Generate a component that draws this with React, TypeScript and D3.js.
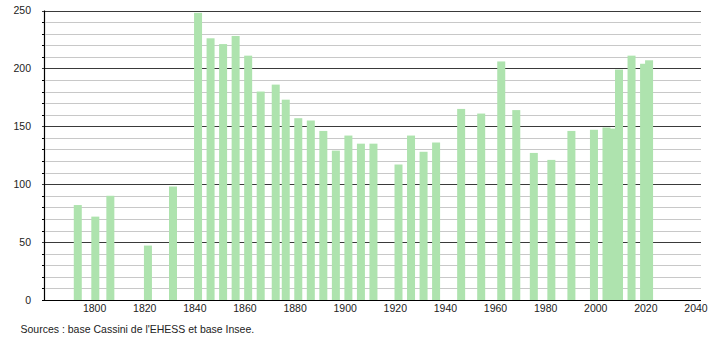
import React from "react";
import * as d3 from "d3";

const years = [1793, 1800, 1806, 1821, 1831, 1841, 1846, 1851, 1856, 1861, 1866, 1872, 1876, 1881, 1886, 1891, 1896, 1901, 1906, 1911, 1921, 1926, 1931, 1936, 1946, 1954, 1962, 1968, 1975, 1982, 1990, 1999, 2004, 2006, 2009, 2014, 2019, 2021];
const population = [82, 72, 90, 47, 98, 248, 226, 221, 228, 211, 180, 186, 173, 157, 155, 146, 129, 142, 135, 135, 117, 142, 128, 136, 165, 161, 206, 164, 127, 121, 146, 147, 149, 148, 199, 211, 204, 207];
const xTicks = [1800, 1820, 1840, 1860, 1880, 1900, 1920, 1940, 1960, 1980, 2000, 2020, 2040];
const yTicks = [0, 50, 100, 150, 200, 250];
const sourceText = "Sources : base Cassini de l'EHESS et base Insee.";

const W = 710, H = 340;
const left = 44.5, right = 701, top = 10.5, bottom = 300;

export default function App() {
  const x = d3.scaleLinear().domain([1780, 2042]).range([left, right]);
  const y = d3.scaleLinear().domain([0, 250]).range([bottom, top]);
  const minor = d3.range(10, 250, 10).filter((v) => v % 50 !== 0);
  const barW = 8;
  const font = "'Liberation Sans', Arial, sans-serif";
  return (
    <svg width={W} height={H} style={{ position: "absolute", left: 0, top: 0, background: "#fff" }}>
      {minor.map((v) => (
        <g key={"m" + v}>
          <line x1={left + 1} x2={right} y1={Math.round(y(v)) + 0.5} y2={Math.round(y(v)) + 0.5} stroke="#c8c8c8" strokeWidth={1} />
          <line x1={left - 2.5} x2={left} y1={Math.round(y(v)) + 0.5} y2={Math.round(y(v)) + 0.5} stroke="#000" strokeWidth={1} />
        </g>
      ))}
      {yTicks.filter((v) => v > 0).map((v) => (
        <line key={"g" + v} x1={left - 2.5} x2={right} y1={Math.round(y(v)) + 0.5} y2={Math.round(y(v)) + 0.5} stroke="#3a3a3a" strokeWidth={1} />
      ))}
      {years.map((yr, i) => (
        <rect key={yr} x={x(yr) - barW / 2 + 0.7} y={y(population[i])} width={barW} height={bottom - y(population[i])} fill="#aee3ae" />
      ))}
      <line x1={left} x2={left} y1={top} y2={bottom} stroke="#000" strokeWidth={1.2} />
      <line x1={left - 2.5} x2={right} y1={bottom + 0.5} y2={bottom + 0.5} stroke="#000" strokeWidth={1.2} />
      {yTicks.map((v) => (
        <text key={"yl" + v} x={31} y={y(v)} dy="0.35em" textAnchor="end" fontFamily={font} fontSize={10.5} fill="#222">
          {v}
        </text>
      ))}
      {xTicks.map((t) => (
        <text key={"xl" + t} x={x(t)} y={308.5} dy="0.35em" textAnchor="middle" fontFamily={font} fontSize={10.5} fill="#222">
          {t}
        </text>
      ))}
      <text x={20.5} y={329} dy="0.35em" fontFamily={font} fontSize={10.5} fill="#222">
        {sourceText}
      </text>
    </svg>
  );
}
